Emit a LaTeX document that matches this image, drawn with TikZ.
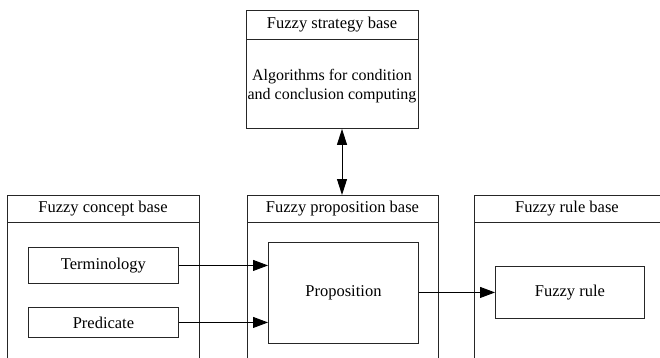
\documentclass[tikz,border=0pt]{standalone}
\usepackage{fontspec}
\setmainfont{Liberation Serif}
\usetikzlibrary{arrows.meta}
\begin{document}
\begin{tikzpicture}[x=1pt,y=-1pt,
  every node/.style={font=\fontsize{16.5}{19}\selectfont, inner sep=0pt},
  frame/.style={draw=black!85, line width=0.9pt},
  itembox/.style={draw=black!85, line width=0.9pt, anchor=north west},
  conn/.style={draw=black, line width=0.9pt, -{Triangle[length=15pt,width=11pt]}},
  dconn/.style={draw=black, line width=0.9pt, {Triangle[length=16pt,width=10pt]}-{Triangle[length=16pt,width=10pt]}}]
\useasboundingbox (0,0) rectangle (660,358);
% Fuzzy strategy base
\node[itembox, minimum width=172pt, minimum height=118pt] (strat) at (246,10) {};
\draw[frame] (246,39) -- (418,39);
\node (strattitle) at (332,24.5) {Fuzzy strategy base};
\node[align=center, font=\fontsize{16}{19}\selectfont] (algo) at (332,86) {Algorithms for condition\\and conclusion computing};
% Fuzzy concept base
\draw[frame] (7,360) -- (7,195) -- (199,195) -- (199,360);
\draw[frame] (7,222) -- (199,222);
\node (ctitle) at (103,208.5) {Fuzzy concept base};
\node[itembox, minimum width=150pt, minimum height=36pt] (term) at (28,247) {};
\node at (term.center) {Terminology};
\node[itembox, minimum width=150pt, minimum height=30pt] (pred) at (28,307) {};
\node at (pred.center) {Predicate};
% Fuzzy proposition base
\draw[frame] (247,360) -- (247,195) -- (438,195) -- (438,360);
\draw[frame] (247,222) -- (438,222);
\node (ptitle) at (342.5,208.5) {Fuzzy proposition base};
\coordinate (ptop) at (342,195);
\node[itembox, minimum width=150pt, minimum height=101pt] (prop) at (268,242) {};
\node at (prop.center) {Proposition};
% Fuzzy rule base
\draw[frame] (474,360) -- (474,195) -- (662,195);
\draw[frame] (474,222) -- (662,222);
\node (rtitle) at (567,208.5) {Fuzzy rule base};
\node[itembox, minimum width=149pt, minimum height=52pt] (rule) at (495,266) {};
\node at (rule.center) {Fuzzy rule};
% connectors
\draw[conn] (term.east) -- (term.east -| prop.west);
\draw[conn] (pred.east) -- (pred.east -| prop.west);
\draw[conn] (prop.east |- rule.west) -- (rule.west);
\draw[dconn] (ptop |- strat.south) -- (ptop);
\end{tikzpicture}
\end{document}
